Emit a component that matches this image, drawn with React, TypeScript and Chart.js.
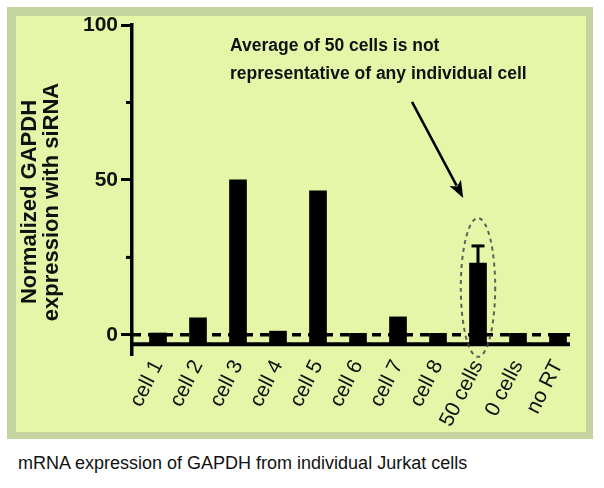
import { useEffect, useRef } from 'react';
import { Chart, registerables } from 'chart.js';

Chart.register(...registerables);

const FONT = '"Liberation Sans", Arial, Helvetica, sans-serif';

// ---- data ----
const categories = ['cell 1', 'cell 2', 'cell 3', 'cell 4', 'cell 5', 'cell 6', 'cell 7', 'cell 8', '50 cells', '0 cells', 'no RT'];
const values = [0.6, 5.5, 50, 1.2, 46.5, 0.5, 5.8, 0.5, 23.2, 0.5, 0.5];
const errorHigh: (number | null)[] = [null, null, null, null, null, null, null, null, 28.7, null, null];
const yTicks = [0, 25, 50, 75, 100];
const yLabelTicks = [0, 50, 100];
const yTitleLines = ['Normalized GAPDH', 'expression with siRNA'];
const annotationLines = ['Average of 50 cells is not', 'representative of any individual cell'];
const caption = 'mRNA expression of GAPDH from individual Jurkat cells';

// axis extents (data units)
const Y_MIN = -6.5;
const Y_MAX = 100;
const X_MIN = -0.65;
const X_MAX = 10.5;
const AXIS_BASE = -3;
const AXIS_END = 10.3;

// annotation anchors (data units)
const TEXT_X = 1.8;
const TEXT_Y = [93.3, 84];
const ARROW_FROM = { x: 6.35, y: 75.2 };
const ARROW_TO = { x: 7.63, y: 44.2 };
const ELLIPSE = { x: 8, yTop: 37.7, yBottom: -7.1, halfWidth: 0.43 };

export default function App() {
  const ref = useRef<HTMLCanvasElement>(null);

  useEffect(() => {
    if (!ref.current) return;
    const overlay = {
      id: 'overlay',
      afterDatasetsDraw(chart: any) {
        const { ctx, chartArea } = chart;
        const x = chart.scales.x;
        const y = chart.scales.y;
        const line = (x1: number, y1: number, x2: number, y2: number) => {
          ctx.beginPath();
          ctx.moveTo(x1, y1);
          ctx.lineTo(x2, y2);
          ctx.stroke();
        };
        ctx.save();
        ctx.strokeStyle = '#000';
        ctx.fillStyle = '#000';

        // minor y ticks
        ctx.lineWidth = 3;
        for (const v of yTicks) {
          if (!yLabelTicks.includes(v)) {
            const py = y.getPixelForValue(v);
            line(chartArea.left - 6, py, chartArea.left, py);
          }
        }

        // x axis line
        const xEnd = x.getPixelForValue(AXIS_END);
        const yBase = y.getPixelForValue(AXIS_BASE);
        ctx.lineWidth = 4;
        line(chartArea.left, yBase, xEnd, yBase);

        // error bars
        ctx.lineWidth = 3;
        errorHigh.forEach((e, i) => {
          if (e == null) return;
          const px = x.getPixelForValue(i);
          const top = y.getPixelForValue(e);
          const bot = y.getPixelForValue(values[i]);
          line(px, bot, px, top);
          line(px - 6.5, top, px + 6.5, top);
        });

        // dashed zero line
        const y0 = y.getPixelForValue(0);
        ctx.setLineDash([9, 7]);
        ctx.lineWidth = 3.5;
        line(chartArea.left, y0, xEnd, y0);

        // dashed ellipse
        const ex = x.getPixelForValue(ELLIPSE.x);
        const eTop = y.getPixelForValue(ELLIPSE.yTop);
        const eBot = y.getPixelForValue(ELLIPSE.yBottom);
        const erx = x.getPixelForValue(ELLIPSE.x + ELLIPSE.halfWidth) - ex;
        ctx.setLineDash([4, 4]);
        ctx.lineWidth = 2;
        ctx.strokeStyle = 'rgba(70,70,70,0.85)';
        ctx.beginPath();
        ctx.ellipse(ex, (eTop + eBot) / 2, erx, (eBot - eTop) / 2, 0, 0, Math.PI * 2);
        ctx.stroke();
        ctx.setLineDash([]);

        // arrow
        ctx.strokeStyle = '#000';
        const ax1 = x.getPixelForValue(ARROW_FROM.x);
        const ay1 = y.getPixelForValue(ARROW_FROM.y);
        const ax2 = x.getPixelForValue(ARROW_TO.x);
        const ay2 = y.getPixelForValue(ARROW_TO.y);
        const ang = Math.atan2(ay2 - ay1, ax2 - ax1);
        const headLen = 17;
        const headW = 6.5;
        const bx = ax2 - headLen * Math.cos(ang);
        const by = ay2 - headLen * Math.sin(ang);
        ctx.lineWidth = 2.5;
        line(ax1, ay1, bx + 3 * Math.cos(ang), by + 3 * Math.sin(ang));
        ctx.beginPath();
        ctx.moveTo(ax2, ay2);
        ctx.lineTo(bx + headW * Math.sin(ang), by - headW * Math.cos(ang));
        ctx.lineTo(bx + 4 * Math.cos(ang), by + 4 * Math.sin(ang));
        ctx.lineTo(bx - headW * Math.sin(ang), by + headW * Math.cos(ang));
        ctx.closePath();
        ctx.fill();

        // annotation text
        ctx.font = `bold 17.5px ${FONT}`;
        ctx.textAlign = 'left';
        ctx.textBaseline = 'middle';
        ctx.fillStyle = '#111';
        annotationLines.forEach((t, i) => {
          ctx.fillText(t, x.getPixelForValue(TEXT_X), y.getPixelForValue(TEXT_Y[i]));
        });

        // y axis title
        ctx.font = `bold 22px ${FONT}`;
        ctx.textAlign = 'center';
        const cy = chartArea.top + 177;
        const offsets = [102, 80];
        yTitleLines.forEach((t, i) => {
          ctx.save();
          ctx.translate(chartArea.left - offsets[i], cy);
          ctx.rotate(-Math.PI / 2);
          ctx.fillText(t, 0, 0);
          ctx.restore();
        });
        ctx.restore();
      },
    };

    const chart = new Chart(ref.current, {
      type: 'bar',
      data: {
        datasets: [
          {
            data: categories.map((_, i) => ({ x: i, y: values[i] })),
            backgroundColor: '#000',
            borderWidth: 0,
            barThickness: 17,
            base: AXIS_BASE,
          } as any,
        ],
      },
      options: {
        animation: false,
        responsive: false,
        devicePixelRatio: 1,
        layout: { padding: { top: 9, right: 8, left: 0, bottom: 0 } },
        plugins: { legend: { display: false }, tooltip: { enabled: false } },
        scales: {
          x: {
            type: 'linear',
            offset: false,
            min: X_MIN,
            max: X_MAX,
            grid: { display: false, drawTicks: false, offset: false },
            border: { display: false },
            afterBuildTicks: (s: any) => {
              s.ticks = categories.map((_, i) => ({ value: i }));
            },
            afterFit: (s: any) => {
              s.height = 77;
              s.paddingLeft = 0;
              s.paddingRight = 0;
            },
            ticks: {
              autoSkip: false,
              minRotation: 63,
              maxRotation: 63,
              padding: 1,
              color: '#111',
              font: { family: FONT, size: 21 },
              callback: (v: any) => categories[Math.round(Number(v))] ?? '',
            },
          },
          y: {
            type: 'linear',
            min: Y_MIN,
            max: Y_MAX,
            afterBuildTicks: (s: any) => {
              s.ticks = yTicks.map((v) => ({ value: v }));
            },
            afterFit: (s: any) => {
              s.width = 116;
              s.paddingTop = 0;
              s.paddingBottom = 0;
            },
            grid: {
              display: true,
              drawOnChartArea: false,
              drawTicks: true,
              tickLength: 11,
              tickWidth: 3,
              tickColor: (c: any) => (yLabelTicks.includes(c.tick?.value) ? '#000' : 'rgba(0,0,0,0)'),
            },
            border: { display: true, color: '#000', width: 3.5 },
            ticks: {
              padding: 3,
              color: '#111',
              font: { family: FONT, size: 21, weight: 'bold' },
              callback: (v: any) => (yLabelTicks.includes(Number(v)) ? String(v) : ''),
            },
          },
        },
      } as any,
      plugins: [overlay],
    });
    return () => chart.destroy();
  }, []);

  return (
    <div style={{ position: 'fixed', left: 0, top: 0, width: 604, height: 488, background: '#fff', fontFamily: FONT }}>
      <div style={{ position: 'absolute', left: 7, top: 7, width: 586, height: 432, background: '#c5d49e' }} />
      <div style={{ position: 'absolute', left: 16, top: 16, width: 570, height: 416, background: '#e5f6a8' }}>
        <canvas ref={ref} width={570} height={416} style={{ display: 'block', width: 570, height: 416 }} />
      </div>
      <div style={{ position: 'absolute', left: 18, top: 453, fontSize: 18, lineHeight: '20px', color: '#111', whiteSpace: 'nowrap' }}>
        {caption}
      </div>
    </div>
  );
}
